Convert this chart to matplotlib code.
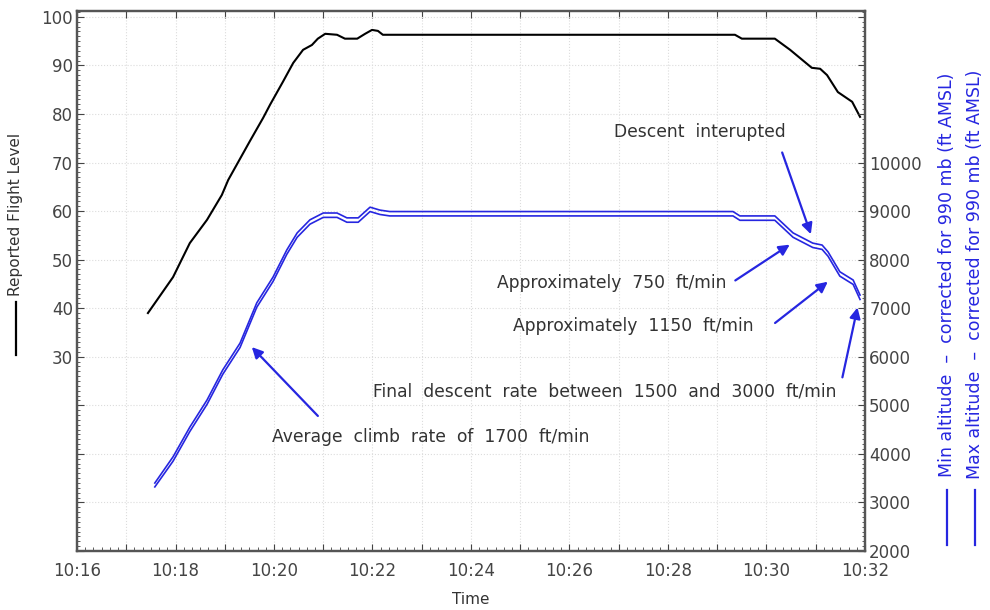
import matplotlib
matplotlib.use("Agg")
import matplotlib.pyplot as plt
from matplotlib.ticker import MultipleLocator, FuncFormatter
from matplotlib.lines import Line2D

# times are minutes after 10:00
fl_time = [17.44, 17.95, 18.29, 18.64, 18.94, 19.07, 19.51, 19.78, 19.92, 20.18, 20.39,
           20.59, 20.77, 20.89, 21.04, 21.28, 21.44, 21.69, 21.85, 21.99, 22.11, 22.21,
           29.36, 29.50, 30.17, 30.48, 30.92, 31.09, 31.23, 31.45, 31.74, 31.90]
fl_level = [39.0, 46.4, 53.4, 58.2, 63.3, 66.4, 74.4, 79.2, 81.9, 86.6, 90.5,
            93.2, 94.2, 95.5, 96.5, 96.3, 95.5, 95.5, 96.5, 97.3, 97.1, 96.3,
            96.3, 95.5, 95.5, 93.2, 89.5, 89.3, 88.0, 84.5, 82.5, 79.4]

alt_time = [17.58, 17.95, 18.29, 18.64, 18.96, 19.31, 19.65, 19.98, 20.26, 20.47, 20.73,
            21.00, 21.28, 21.48, 21.71, 21.95, 22.15, 22.35, 29.32, 29.46, 30.17, 30.54,
            30.94, 31.13, 31.25, 31.49, 31.76, 31.90]
alt_max = [3400, 3940, 4550, 5110, 5730, 6280, 7110, 7640, 8200, 8550, 8820,
           8960, 8960, 8860, 8860, 9080, 9020, 8990, 8990, 8900, 8900, 8550,
           8340, 8300, 8160, 7750, 7580, 7270]
alt_min = [3320, 3850, 4460, 5020, 5640, 6190, 7020, 7550, 8110, 8460, 8730,
           8870, 8870, 8770, 8770, 8990, 8930, 8900, 8900, 8810, 8810, 8460,
           8250, 8210, 8070, 7660, 7490, 7180]

# annotations: text, text position (time, ft), arrow tail, arrow head
notes = [
    ("Descent  interupted", (28.65, 10630), (30.30, 10260), (30.92, 8470)),
    ("Approximately  750  ft/min", (26.86, 7520), (29.32, 7540), (30.52, 8340)),
    ("Approximately  1150  ft/min", (27.29, 6640), (30.13, 6660), (31.29, 7580)),
    ("Final  descent  rate  between  1500  and  3000  ft/min", (26.72, 5275), (31.53, 5520), (31.86, 7070)),
    ("Average  climb  rate  of  1700  ft/min", (23.19, 4350), (20.93, 4740), (19.51, 6240)),
]

blue = "#2626e0"
grey = "#444444"

fig = plt.figure(figsize=(9.9, 6.1), dpi=100)
ax = fig.add_axes([0.0778, 0.0967, 0.7959, 0.8853])
ax2 = ax.twinx()

ax.plot(fl_time, fl_level, color="black", lw=1.5)
ax2.plot(alt_time, alt_max, color=blue, lw=1.2)
ax2.plot(alt_time, alt_min, color=blue, lw=1.2)

ax.set_xlim(16, 32)
ax.set_ylim(-10, 101.2)
ax2.set_ylim(2000, 13120)

# ticks
ax.xaxis.set_major_locator(MultipleLocator(1))
ax.xaxis.set_minor_locator(MultipleLocator(1 / 6))
ax.xaxis.set_major_formatter(FuncFormatter(lambda v, p: f"10:{int(round(v)):02d}" if round(v) % 2 == 0 else ""))
ax.yaxis.set_major_locator(MultipleLocator(10))
ax.yaxis.set_minor_locator(MultipleLocator(1))
ax.yaxis.set_major_formatter(FuncFormatter(lambda v, p: f"{int(round(v))}" if v >= 29 else ""))
ax2.yaxis.set_major_locator(MultipleLocator(1000))
ax2.yaxis.set_minor_locator(MultipleLocator(100))
ax2.yaxis.set_major_formatter(FuncFormatter(lambda v, p: f"{int(round(v))}" if v <= 10000 else ""))

ax.tick_params(axis="x", which="major", direction="in", top=True, length=5, color=grey,
               labelsize=12, labelcolor=grey, pad=8)
ax.tick_params(axis="x", which="minor", direction="in", top=False, length=3, color=grey)
ax.tick_params(axis="y", which="major", direction="in", right=False, length=5, color=grey,
               labelsize=12, labelcolor=grey, pad=3)
ax.tick_params(axis="y", which="minor", direction="in", right=False, length=2.5, color=grey)
ax2.tick_params(axis="y", which="major", direction="in", length=5, color=grey,
                labelsize=12, labelcolor=grey, pad=3)
ax2.tick_params(axis="y", which="minor", direction="in", length=2.5, color=grey)

ax.grid(True, which="major", color="#dcdcdc", linestyle=":", linewidth=0.8)
for a in (ax, ax2):
    for s in a.spines.values():
        s.set_color("#555555")
        s.set_linewidth(1.6)

for txt, tpos, tail, head in notes:
    ax2.text(tpos[0], tpos[1], txt, ha="center", va="center", fontsize=12.3, color="#333333")
    ax2.annotate("", xy=head, xytext=tail,
                 arrowprops=dict(arrowstyle="-|>", color=blue, lw=1.6, mutation_scale=16))

# axis labels with line keys
fig.text(0.475, 0.018, "Time", ha="center", va="center", fontsize=11, color="#333333")
fig.text(0.016, 0.648, "Reported Flight Level", rotation=90, ha="center", va="center",
         fontsize=11, color="#333333")
fig.add_artist(Line2D([0.016, 0.016], [0.418, 0.505], color="black", lw=1.6))

fig.text(0.957, 0.55, "Min altitude  \u2013  corrected for 990 mb (ft AMSL)", rotation=90,
         ha="center", va="center", fontsize=12.5, color=blue)
fig.add_artist(Line2D([0.957, 0.957], [0.107, 0.196], color=blue, lw=1.6))
fig.text(0.985, 0.55, "Max altitude  \u2013  corrected for 990 mb (ft AMSL)", rotation=90,
         ha="center", va="center", fontsize=12.5, color=blue)
fig.add_artist(Line2D([0.985, 0.985], [0.107, 0.196], color=blue, lw=1.6))

fig.savefig("out.png", dpi=100)
